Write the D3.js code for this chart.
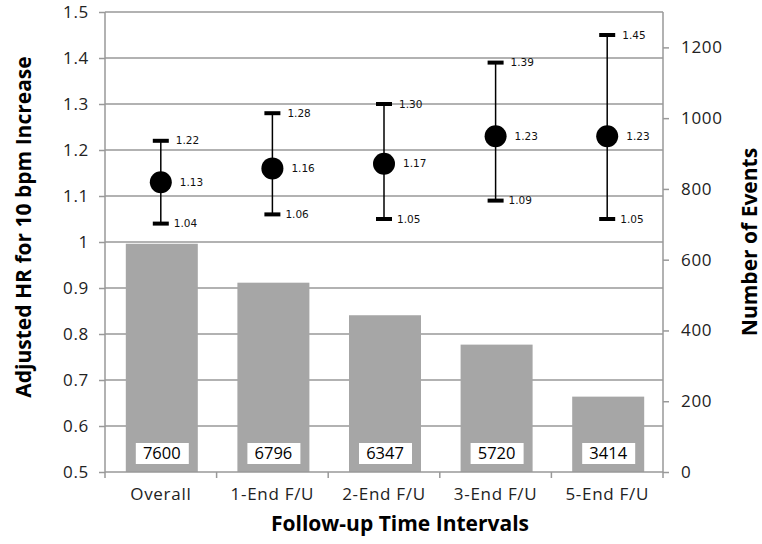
<!DOCTYPE html>
<html>
<head>
<meta charset="utf-8">
<title>Adjusted HR</title>
<script src="https://d3js.org/d3.v7.min.js"></script>
<style>
  body { margin: 0; background: #fff; }
  svg text { font-family: "Open Sans", sans-serif; }
</style>
</head>
<body>
<svg id="chart" width="762" height="544"></svg>
<script>
// categories and values
var categories = ['Overall', '1-End F/U', '2-End F/U', '3-End F/U', '5-End F/U'];
var hr    = [1.13, 1.16, 1.17, 1.23, 1.23];
var hrLow = [1.04, 1.06, 1.05, 1.09, 1.05];
var hrUp  = [1.22, 1.28, 1.30, 1.39, 1.45];
var events = [645, 535, 443, 360, 213];       // bar heights on right axis
var subjects = ['7600', '6796', '6347', '5720', '3414'];
var leftTicks = [0.5, 0.6, 0.7, 0.8, 0.9, 1, 1.1, 1.2, 1.3, 1.4, 1.5];
var rightTicks = [0, 200, 400, 600, 800, 1000, 1200];

var svg = d3.select('#chart');
var m = { left: 105, right: 663, top: 12, bottom: 472 };

var x = d3.scaleBand().domain(categories).range([m.left, m.right]).paddingInner(0).paddingOuter(0);
var yL = d3.scaleLinear().domain([0.5, 1.5]).range([m.bottom, m.top]);
var yR = d3.scaleLinear().domain([0, 1300]).range([m.bottom, m.top]);

var grey = '#999';
var font = '"Open Sans", sans-serif';

// horizontal gridlines
svg.append('g').selectAll('line').data(leftTicks.slice(1)).join('line')
  .attr('x1', m.left).attr('x2', m.right)
  .attr('y1', function(d) { return yL(d); }).attr('y2', function(d) { return yL(d); })
  .attr('stroke', grey).attr('stroke-width', 1.5);

// bars
var bw = 72;
svg.append('g').selectAll('rect').data(events).join('rect')
  .attr('x', function(d, i) { return x(categories[i]) + x.bandwidth() / 2 - bw / 2 + 1; })
  .attr('width', bw)
  .attr('y', function(d) { return yR(d); })
  .attr('height', function(d) { return yR(0) - yR(d); })
  .attr('fill', '#a6a6a6');

// label boxes inside bars
var lab = svg.append('g').selectAll('g').data(subjects).join('g')
  .attr('transform', function(d, i) { return 'translate(' + (x(categories[i]) + x.bandwidth() / 2 + 1) + ',' + 453 + ')'; });
lab.append('rect').attr('x', -26).attr('y', -10).attr('width', 53).attr('height', 21).attr('fill', '#fff');
lab.append('text').attr('text-anchor', 'middle').attr('dy', '0.36em')
  .attr('font-size', 16.5).attr('fill', '#000').text(function(d) { return d; });

// axes
var axL = d3.axisLeft(yL).tickValues(leftTicks).tickSize(6).tickPadding(10)
  .tickFormat(function(d) { return d === 1 ? '1' : d3.format('.1f')(d); });
var gL = svg.append('g').attr('transform', 'translate(' + m.left + ',0)').call(axL);
var axR = d3.axisRight(yR).tickValues(rightTicks).tickSize(6).tickPadding(12).tickFormat(d3.format('d'));
var gR = svg.append('g').attr('transform', 'translate(' + m.right + ',0)').call(axR);
var axB = d3.axisBottom(x).tickSize(0).tickPadding(16);
var gB = svg.append('g').attr('transform', 'translate(0,' + m.bottom + ')').call(axB);

[gL, gR, gB].forEach(function(g) {
  g.select('.domain').attr('stroke', grey).attr('stroke-width', 1.5);
  g.selectAll('.tick line').attr('stroke', grey).attr('stroke-width', 1.5);
  g.selectAll('.tick text').attr('font-size', 17).attr('fill', '#222')
    .attr('letter-spacing', 0.7).style('font-family', font);
});
gL.select('.domain').attr('d', 'M0,' + m.top + 'V' + m.bottom);
gR.select('.domain').attr('d', 'M0,' + m.top + 'V' + m.bottom);
gB.select('.domain').attr('d', 'M' + m.left + ',0H' + m.right);

// x boundary ticks
svg.append('g').selectAll('line').data(d3.range(categories.length + 1)).join('line')
  .attr('x1', function(i) { return m.left + i * x.bandwidth(); })
  .attr('x2', function(i) { return m.left + i * x.bandwidth(); })
  .attr('y1', m.bottom).attr('y2', m.bottom + 6)
  .attr('stroke', grey).attr('stroke-width', 1.5);

// error bars
var eb = svg.append('g').selectAll('g').data(hr).join('g')
  .attr('transform', function(d, i) { return 'translate(' + (x(categories[i]) + x.bandwidth() / 2) + ',0)'; });
eb.append('line')
  .attr('y1', function(d, i) { return yL(hrLow[i]); })
  .attr('y2', function(d, i) { return yL(hrUp[i]); })
  .attr('stroke', '#000').attr('stroke-width', 1.5);
eb.append('rect').attr('x', -8).attr('width', 16).attr('height', 4)
  .attr('y', function(d, i) { return yL(hrUp[i]) - 2; }).attr('fill', '#000');
eb.append('rect').attr('x', -8).attr('width', 16).attr('height', 4)
  .attr('y', function(d, i) { return yL(hrLow[i]) - 2; }).attr('fill', '#000');
eb.append('circle').attr('r', 11).attr('cy', function(d) { return yL(d); }).attr('fill', '#000');

function small(sel, dx, vals) {
  sel.append('text').attr('x', dx)
    .attr('y', function(d, i) { return yL(vals[i]); })
    .attr('dy', '0.35em').attr('fill', '#111')
    .style('font-family', '"DejaVu Sans", sans-serif').style('font-size', '10.5px')
    .text(function(d, i) { return vals[i].toFixed(2); });
}
small(eb, 15, hrUp);
small(eb, 19, hr);
small(eb, 13, hrLow);

// axis titles
svg.append('text').attr('transform', 'translate(31,227) rotate(-90)')
  .attr('text-anchor', 'middle').attr('font-size', 21).attr('font-weight', 'bold')
  .text('Adjusted HR for 10 bpm Increase');
svg.append('text').attr('transform', 'translate(757,242) rotate(-90)')
  .attr('text-anchor', 'middle').attr('font-size', 21).attr('font-weight', 'bold')
  .text('Number of Events');
svg.append('text').attr('x', 400).attr('y', 531)
  .attr('text-anchor', 'middle').attr('font-size', 21).attr('font-weight', 'bold')
  .text('Follow-up Time Intervals');
</script>
</body>
</html>
